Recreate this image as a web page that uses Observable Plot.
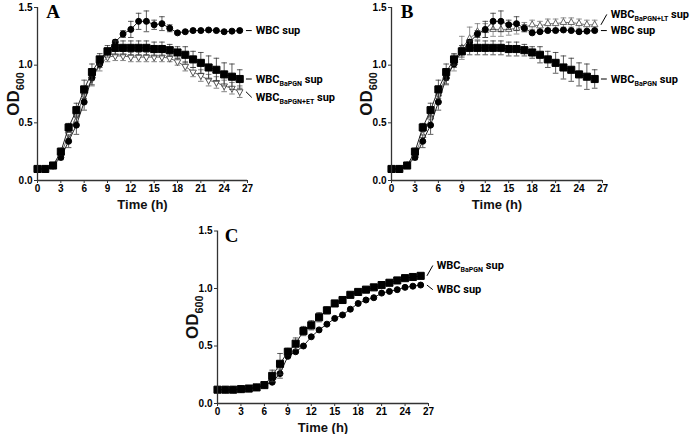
<!DOCTYPE html>
<html><head><meta charset="utf-8">
<script src="https://cdn.jsdelivr.net/npm/d3@7"></script>
<script src="https://cdn.jsdelivr.net/npm/@observablehq/plot@0.6"></script>
<style>
html,body{margin:0;padding:0;background:#fff;}
#fig{position:relative;width:691px;height:434px;overflow:hidden;background:#fff;}
#fig svg{position:absolute;overflow:visible;}
</style></head><body><div id="fig"></div>
<script>
// ---- data ----
const hours = [0,1,2,3,4,5,6,7,8,9,10,11,12,13,14,15,16,17,18,19,20,21,22,23,24,25,26];
const xTicks = [0,3,6,9,12,15,18,21,24,27];
const yTicks = [0,0.5,1.0,1.5];

const A_wbc    = [0.10,0.10,0.13,0.20,0.34,0.48,0.68,0.89,1.01,1.12,1.20,1.27,1.31,1.38,1.38,1.35,1.36,1.32,1.28,1.29,1.30,1.30,1.305,1.30,1.29,1.295,1.30];
const A_wbc_se = [0,0,0.01,0.02,0.055,0.08,0.07,0.06,0.03,0.03,0.02,0.03,0.07,0.07,0.09,0.04,0.06,0.03,0.01,0.01,0.01,0.01,0.01,0.01,0.01,0.01,0.01];
const A_bapgn    = [0.10,0.10,0.13,0.25,0.46,0.61,0.79,0.94,1.05,1.12,1.15,1.15,1.15,1.15,1.15,1.14,1.14,1.13,1.11,1.09,1.05,1.02,0.98,0.96,0.92,0.90,0.88];
const A_bapgn_se = [0,0,0.01,0.03,0.035,0.06,0.08,0.07,0.05,0.05,0.06,0.06,0.06,0.06,0.06,0.06,0.06,0.05,0.05,0.07,0.07,0.09,0.10,0.10,0.10,0.11,0.08];
const A_et    = [0.10,0.10,0.13,0.22,0.40,0.56,0.74,0.88,1.00,1.07,1.08,1.08,1.07,1.07,1.07,1.07,1.07,1.06,1.03,0.99,0.94,0.91,0.87,0.85,0.82,0.80,0.77];
const A_et_se = [0,0,0.01,0.03,0.04,0.05,0.06,0.06,0.05,0.04,0.04,0.04,0.04,0.04,0.04,0.04,0.04,0.03,0.03,0.04,0.04,0.05,0.05,0.05,0.05,0.05,0.05];

const B_wbc = A_wbc, B_wbc_se = A_wbc_se;
const B_bapgn = A_bapgn, B_bapgn_se = A_bapgn_se;
const B_lt    = [0.10,0.10,0.13,0.22,0.39,0.55,0.75,0.90,1.02,1.15,1.23,1.29,1.30,1.31,1.31,1.31,1.32,1.33,1.35,1.34,1.36,1.36,1.37,1.37,1.36,1.35,1.35];
const B_lt_se = [0,0,0.01,0.03,0.05,0.06,0.07,0.06,0.07,0.10,0.10,0.07,0.06,0.06,0.06,0.05,0.05,0.04,0.04,0.04,0.04,0.04,0.04,0.04,0.04,0.04,0.04];

const C_wbc    = [0.12,0.12,0.12,0.125,0.13,0.14,0.16,0.185,0.26,0.41,0.45,0.50,0.58,0.64,0.69,0.74,0.77,0.82,0.87,0.90,0.92,0.96,0.975,0.99,1.01,1.02,1.03];
const C_wbc_se = [0,0,0,0,0,0,0.01,0.01,0.04,0.01,0.01,0,0,0,0,0,0,0,0,0,0,0,0,0,0,0,0];
const C_bapgn    = [0.12,0.12,0.12,0.125,0.13,0.14,0.16,0.24,0.345,0.45,0.52,0.63,0.68,0.75,0.81,0.87,0.90,0.945,0.97,0.99,1.01,1.03,1.05,1.07,1.09,1.10,1.11];
const C_bapgn_se = [0,0,0,0,0,0,0.01,0.05,0.09,0.03,0.05,0.04,0.04,0.04,0.03,0.02,0.01,0.01,0,0,0,0,0,0,0,0,0];

// series labels ("[...]" = subscript) and the OD value where each label sits
const labelsA = [
  {text:"WBC sup", values:A_wbc, y:1.30},
  {text:"WBC[BaPGN] sup", values:A_bapgn, y:0.88},
  {text:"WBC[BaPGN+ET] sup", values:A_et, y:0.72}
];
const labelsB = [
  {text:"WBC[BaPGN+LT] sup", values:B_lt, y:1.44},
  {text:"WBC sup", values:B_wbc, y:1.30},
  {text:"WBC[BaPGN] sup", values:B_bapgn, y:0.88}
];
const labelsC = [
  {text:"WBC[BaPGN] sup", values:C_bapgn, y:1.20},
  {text:"WBC sup", values:C_wbc, y:0.99}
];

// ---- symbols ----
const triDown = {draw(ctx, size){ const s=Math.sqrt(size); const h=s*0.9;
  ctx.moveTo(-s/2,-h/3); ctx.lineTo(s/2,-h/3); ctx.lineTo(0,h*2/3); ctx.closePath(); }};
const triUp = {draw(ctx, size){ const s=Math.sqrt(size); const h=s*0.9;
  ctx.moveTo(-s/2,h/3); ctx.lineTo(s/2,h/3); ctx.lineTo(0,-h*2/3); ctx.closePath(); }};

const STY = {
  circle:{symbol:"circle", r:3.0, fill:"#000", stroke:"#000", line:"#222", bar:"#333"},
  square:{symbol:"square", r:4.0, fill:"#000", stroke:"#000", line:"#222", bar:"#333"},
  tdown:{symbol:triDown, r:3.7, fill:"#fff", stroke:"#555", line:"#666", bar:"#666"},
  tup:{symbol:triUp, r:3.7, fill:"#fff", stroke:"#666", line:"#777", bar:"#777"}
};

function seriesMarks(values, se, st){
  const data = hours.map((t,i)=>({t, y:values[i], e:se[i]}));
  const eb = data.filter(d=>d.e>0.004);
  return [
    Plot.ruleX(eb,{x:"t", y1:d=>d.y-d.e, y2:d=>d.y+d.e, stroke:st.bar, strokeWidth:0.8}),
    Plot.link(eb,{x1:d=>d.t-0.36, x2:d=>d.t+0.36, y1:d=>d.y+d.e, y2:d=>d.y+d.e, stroke:st.bar, strokeWidth:0.8}),
    Plot.link(eb,{x1:d=>d.t-0.36, x2:d=>d.t+0.36, y1:d=>d.y-d.e, y2:d=>d.y-d.e, stroke:st.bar, strokeWidth:0.8}),
    Plot.line(data,{x:"t", y:"y", stroke:st.line, strokeWidth:1}),
    Plot.dot(data,{x:"t", y:"y", symbol:st.symbol, r:st.r, fill:st.fill, stroke:st.stroke, strokeWidth:1})
  ];
}

function labelMarks(labels){
  const last = hours[hours.length-1];
  const rows = labels.map(l=>({text:l.text, ly:l.y, vy:l.values[l.values.length-1]}));
  return [
    Plot.link(rows,{x1:()=>last+0.8, y1:"vy", x2:()=>last+1.55, y2:"ly", stroke:"#000", strokeWidth:1}),
    Plot.text(rows,{x:()=>last+2.05, y:"ly", text:"text", textAnchor:"start", lineAnchor:"middle",
      fontSize:11, fontWeight:"bold", fontFamily:"Roboto,'Liberation Sans',Arial,sans-serif", fill:"#000"})
  ];
}

function panel({series, labels, letter, letterDx, letterDy, left, top, width, height, mL, mR, mT, mB, yLabDx}){
  const marks = [];
  for (const s of series) marks.push(...seriesMarks(s.values, s.se, s.st));
  marks.push(
    Plot.ruleX([0],{stroke:"#333", strokeWidth:1.3}),
    Plot.ruleY([0],{stroke:"#333", strokeWidth:1.3}),
    Plot.axisX({ticks:xTicks, tickSize:3, tickPadding:1, label:null, fontSize:10, fontWeight:"bold", stroke:"#333"}),
    Plot.axisY({ticks:yTicks, tickSize:3, tickPadding:2, tickFormat:d3.format(".1f"), label:null, fontSize:10, fontWeight:"bold", stroke:"#333"}),
    Plot.text(["Time (h)"],{frameAnchor:"bottom", dy:24, lineAnchor:"middle", fontSize:13, fontWeight:"bold", fill:"#111"}),
    Plot.text(["OD[600]"],{frameAnchor:"left", rotate:-90, dx:yLabDx, textAnchor:"middle", lineAnchor:"middle", fontSize:17, fontWeight:"bold", fill:"#111"}),
    Plot.text([letter],{frameAnchor:"top-left", dx:letterDx, dy:letterDy, textAnchor:"middle", lineAnchor:"middle",
      fontSize:19, fontWeight:"bold", fontFamily:"'Liberation Serif','Times New Roman',serif", fill:"#000"}),
    ...labelMarks(labels)
  );
  const svg = Plot.plot({
    width, height, marginLeft:mL, marginRight:mR, marginTop:mT, marginBottom:mB,
    x:{domain:[0,27]}, y:{domain:[0,1.5]},
    style:{fontFamily:"'Liberation Sans',Arial,sans-serif", color:"#000", background:"transparent", overflow:"visible"},
    marks
  });
  svg.style.left = left+"px"; svg.style.top = top+"px";
  richify(svg);
  document.getElementById("fig").appendChild(svg);
}

function richify(svg){
  const ns="http://www.w3.org/2000/svg";
  svg.querySelectorAll("text").forEach(t=>{
    const m = t.textContent.match(/^(.*)\[(.*)\](.*)$/);
    if(!m) return;
    const fs = parseFloat(t.closest("g")?.getAttribute("font-size")) || 12;
    const sh = fs*0.28;
    while(t.firstChild) t.removeChild(t.firstChild);
    const a=document.createElementNS(ns,"tspan"); a.textContent=m[1]; t.appendChild(a);
    const b=document.createElementNS(ns,"tspan"); b.textContent=m[2]; b.setAttribute("font-size",(fs*0.64)+"px"); b.setAttribute("dy",sh); t.appendChild(b);
    if(m[3]){const c=document.createElementNS(ns,"tspan"); c.textContent=m[3]; c.setAttribute("dy",-sh); t.appendChild(c);}
  });
}

panel({
  series:[{values:A_et,se:A_et_se,st:STY.tdown},{values:A_wbc,se:A_wbc_se,st:STY.circle},{values:A_bapgn,se:A_bapgn_se,st:STY.square}],
  labels:labelsA, letter:"A", letterDx:15.5, letterDy:4.5,
  left:0, top:0, width:345, height:216, mL:37, mR:98, mT:7, mB:36, yLabDx:-23.5
});
panel({
  series:[{values:B_lt,se:B_lt_se,st:STY.tup},{values:B_wbc,se:B_wbc_se,st:STY.circle},{values:B_bapgn,se:B_bapgn_se,st:STY.square}],
  labels:labelsB, letter:"B", letterDx:15.5, letterDy:4.5,
  left:350, top:0, width:341, height:216, mL:41, mR:89, mT:7, mB:36, yLabDx:-25
});
panel({
  series:[{values:C_wbc,se:C_wbc_se,st:STY.circle},{values:C_bapgn,se:C_bapgn_se,st:STY.square}],
  labels:labelsC, letter:"C", letterDx:14, letterDy:5,
  left:175, top:225, width:300, height:209, mL:42, mR:47, mT:5.5, mB:31, yLabDx:-25
});
</script></body></html>
